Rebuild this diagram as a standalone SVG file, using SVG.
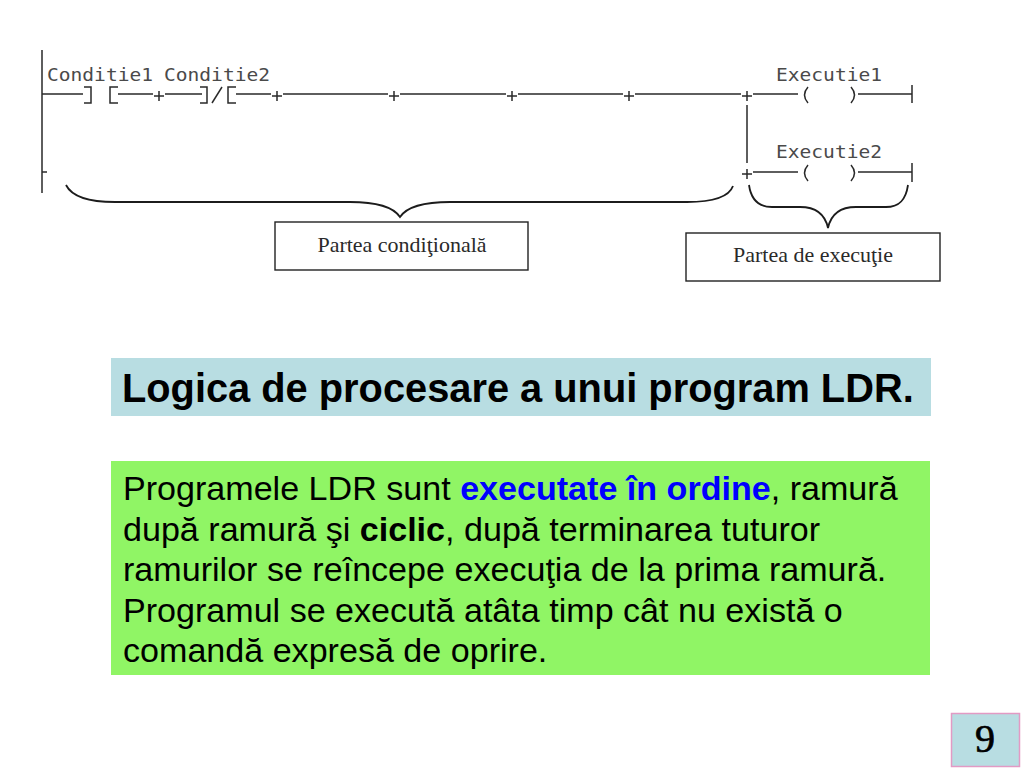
<svg xmlns="http://www.w3.org/2000/svg" width="1024" height="768" viewBox="0 0 1024 768">
<style>
.l{fill:none;stroke:#2a2a2a;stroke-width:1.5}
.b{fill:none;stroke:#1c1c1c;stroke-width:1.8}
.m{font-family:"DejaVu Sans Mono",monospace;font-size:18px;fill:#4a4a4a}
.s{font-family:"Liberation Serif",serif;font-size:22px;fill:#2a2a2a}
.t{font-family:"Liberation Sans",Arial,sans-serif;font-size:34.1px;fill:#000}
.box{fill:#fff;stroke:#222;stroke-width:1.4}
</style>
<rect width="1024" height="768" fill="#fff"/>
<g id="connectors">
<path class="l" d="M42 50V193M42 94H83M42 172H47M84 87H91V103H84M118 87H110V103H118M118 94H153M165 94H202M200 87H207V103H200M236 87H228V103H236M236 94H271M283 94H388M400 94H506M518 94H623M635 94H741M753 94H798M858 94H912M912 85V103M747 105V163M753 172H798M858 172H912M912 163V182"/>
<path class="l" d="M212 103L222 87"/>
<path class="l" d="M154 96H164M159 91V101M272 96H282M277 91V101M389 96H399M394 91V101M507 96H517M512 91V101M624 96H634M629 91V101M742 96H752M747 91V101M742 174H752M747 169V179"/>
<path class="l" d="M808 87Q801 95 808 103M851 87Q858 95 851 103M808 165Q801 173 808 181M851 165Q858 173 851 181"/>
<path class="b" d="M66 185C72 197 90 202 115 202H350C378 202 394 208 400 217C406 208 422 202 450 202H687C712 202 729 197 733 186"/>
<path class="b" d="M749 185C751 199 758 207 772 207H800C816 207 825 214 828 228C831 214 840 207 856 207H886C900 207 906 199 908 185"/>
</g>
<g id="labels">
<text class="m" x="47" y="81" textLength="106" lengthAdjust="spacingAndGlyphs">Conditie1</text>
<text class="m" x="164" y="81" textLength="106" lengthAdjust="spacingAndGlyphs">Conditie2</text>
<text class="m" x="776" y="81" textLength="106" lengthAdjust="spacingAndGlyphs">Executie1</text>
<text class="m" x="776" y="158" textLength="106" lengthAdjust="spacingAndGlyphs">Executie2</text>
</g>
<g id="node-conditionala">
<rect class="box" x="275" y="222" width="253" height="48"/>
<text class="s" x="402" y="252" text-anchor="middle">Partea condiţională</text>
</g>
<g id="node-executie">
<rect class="box" x="686" y="233" width="254" height="48"/>
<text class="s" x="813" y="262" text-anchor="middle">Partea de execuţie</text>
</g>
<g id="title">
<rect x="111" y="358" width="820" height="58" fill="#b8dde2"/>
<text class="t" x="122" y="402" font-weight="700" style="font-size:39.800px">Logica de procesare a unui program LDR.</text>
</g>
<g id="body">
<rect x="111" y="461" width="819" height="214" fill="#90f565"/>
<text class="t" x="123" y="500">Programele LDR sunt <tspan font-weight="700" fill="#0000ff">executate în ordine</tspan>, ramură</text>
<text class="t" x="123" y="541">după ramură şi <tspan font-weight="700">ciclic</tspan>, după terminarea tuturor</text>
<text class="t" x="123" y="581">ramurilor se reîncepe execuţia de la prima ramură.</text>
<text class="t" x="123" y="622">Programul se execută atâta timp cât nu există o</text>
<text class="t" x="123" y="662">comandă expresă de oprire.</text>
</g>
<g id="page-number">
<rect x="951.500" y="713.500" width="68" height="53" fill="#b8dde2" stroke="#e29ac4" stroke-width="1.500"/>
<text x="985" y="752" text-anchor="middle" stroke="#000" stroke-width="0.700" style="font-family:'Liberation Serif',serif;font-size:40px" fill="#000">9</text>
</g>
</svg>
